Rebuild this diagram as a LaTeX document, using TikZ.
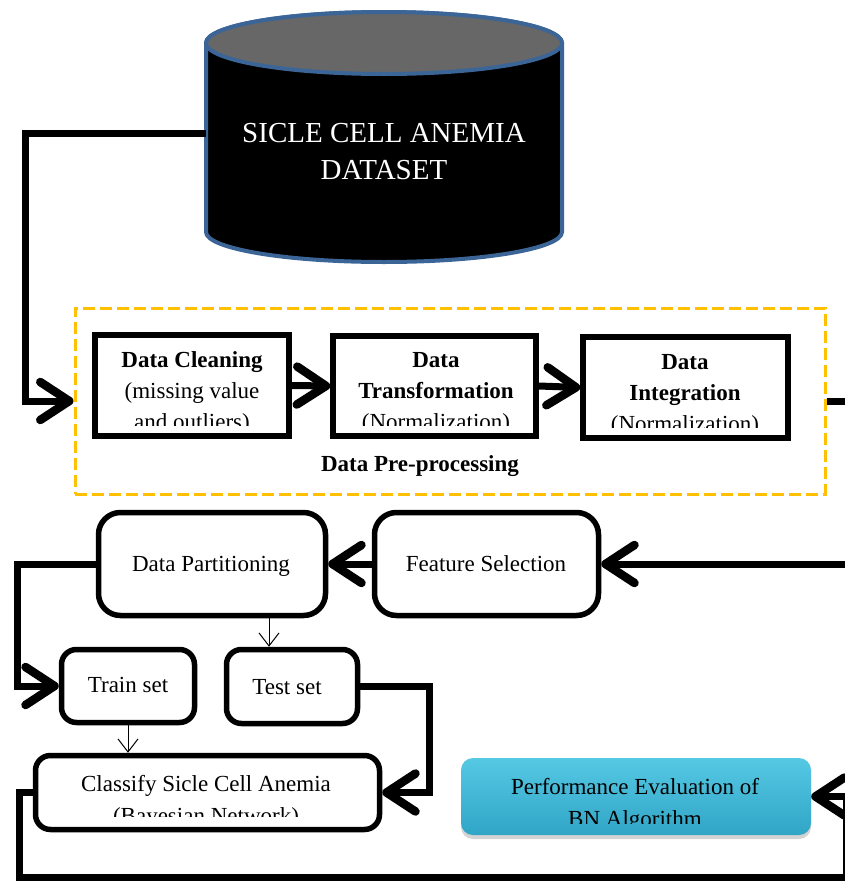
\documentclass[tikz,border=0pt]{standalone}
\usepackage{fontspec}
\setmainfont{Liberation Serif}
\usetikzlibrary{arrows.meta,shadows}

\definecolor{dashgold}{HTML}{FFC000}
\definecolor{cylblue}{HTML}{3C6597}
\definecolor{cyltop}{HTML}{676767}
\definecolor{perftop}{HTML}{55C8E4}
\definecolor{perfbot}{HTML}{31A5C6}

\tikzset{
  flow/.style={line width=7pt, line join=miter,
    -{Straight Barb[length=29pt,width=38pt,line width=8.5pt,round]}},
  thinflow/.style={line width=1pt, -{Straight Barb[length=13pt,width=20pt]}},
  sqbox/.style={draw, line width=5.5pt, inner sep=0pt},
  rbox/.style={draw, line width=5.5pt, inner sep=0pt, rounded corners=#1},
  groupbox/.style={draw=dashgold, line width=3pt, dash pattern=on 12pt off 5pt, inner sep=0pt},
  perfbox/.style={rounded corners=12pt, inner sep=0pt,
    top color=perftop, bottom color=perfbot,
    drop shadow={opacity=0.35, shadow xshift=0pt, shadow yshift=-4pt}},
  lbl/.style={font=\fontsize{23}{28}\selectfont, inner sep=0pt, anchor=base},
  blbl/.style={font=\fontsize{23}{28}\selectfont\bfseries, inner sep=0pt, anchor=base},
  dblbl/.style={font=\fontsize{29}{34}\selectfont, text=white, inner sep=0pt, anchor=base},
}

\begin{document}
\begin{tikzpicture}[x=1pt, y=-1pt]
\useasboundingbox (0,0) rectangle (845,881);
\clip (0,0) rectangle (845,881);

% ---------- dataset cylinder ----------
\node[inner sep=0pt, minimum width=356pt, minimum height=250pt] (db) at (384,137) {};
\filldraw[fill=black, draw=cylblue, line width=4pt]
  (206,43) -- (206,232)
  arc[start angle=180, end angle=360, x radius=178pt, y radius=30pt]
  -- (562,43)
  arc[start angle=0, end angle=180, x radius=178pt, y radius=31pt] -- cycle;
\filldraw[fill=cyltop, draw=cylblue, line width=4pt]
  (384,43) ellipse[x radius=178pt, y radius=31pt];
\node[dblbl] (db1) at (384,142) {SICLE CELL ANEMIA};
\node[dblbl] (db2) at (384,179) {DATASET};

% ---------- pre-processing group ----------
\node[groupbox, minimum width=750pt, minimum height=186pt] (pre) at (450,401) {};
\node[sqbox, minimum width=194pt, minimum height=101pt] (clean) at (192,385.5) {};
\node[sqbox, minimum width=203pt, minimum height=100pt] (trans) at (434.5,386) {};
\node[sqbox, minimum width=205pt, minimum height=101pt] (integ) at (685.5,387.5) {};

\begin{scope}
  \clip (95,335) rectangle (289,425);
  \node[blbl] (clean1) at (192,367) {Data Cleaning};
  \node[lbl]  (clean2) at (192,398) {(missing value};
  \node[lbl]  (clean3) at (192,429) {and outliers)};
\end{scope}
\begin{scope}
  \clip (333,336) rectangle (536,425);
  \node[blbl] (trans1) at (436,367) {Data};
  \node[blbl] (trans2) at (436,398) {Transformation};
  \node[lbl]  (trans3) at (436,429) {(Normalization)};
\end{scope}
\begin{scope}
  \clip (583,337) rectangle (788,427);
  \node[blbl] (integ1) at (685,369) {Data};
  \node[blbl] (integ2) at (685,400) {Integration};
  \node[lbl]  (integ3) at (685,431) {(Normalization)};
\end{scope}
\node[blbl] (pretitle) at (420,471) {Data Pre-processing};

% ---------- selection and partitioning ----------
\node[rbox=22pt, minimum width=227pt, minimum height=103pt] (dp) at (212,564) {};
\node[lbl] (dptxt) at (211,571) {Data Partitioning};
\node[rbox=22pt, minimum width=224pt, minimum height=103pt] (fs) at (486.5,564) {};
\node[lbl] (fstxt) at (486,571) {Feature Selection};

\node[rbox=15pt, minimum width=133pt, minimum height=73pt] (train) at (128,686) {};
\node[lbl] (traintxt) at (128,692) {Train set};
\node[rbox=15pt, minimum width=131pt, minimum height=74pt] (test) at (292,686.5) {};
\node[lbl] (testtxt) at (287,694) {Test set};

% ---------- classification and evaluation ----------
\node[rbox=15pt, minimum width=344pt, minimum height=74pt] (cls) at (207.5,792.5) {};
\begin{scope}
  \clip (36,756) rectangle (380,816);
  \node[lbl] (cls1) at (206,791) {Classify Sicle Cell Anemia};
  \node[lbl] (cls2) at (206,823) {(Bayesian Network)};
\end{scope}

\node[perfbox, minimum width=350pt, minimum height=77pt] (perf) at (636,796.5) {};
\begin{scope}
  \clip (461,758) rectangle (811,823);
  \node[lbl] (perf1) at (635,794) {Performance Evaluation of};
  \node[lbl] (perf2) at (635,826) {BN Algorithm};
\end{scope}

% ---------- connectors ----------
\draw[flow] ([yshift=4pt]db.west) -- ++(-180,0) |- (pre.west);
\draw[flow] (clean.east) -- (trans.east -| trans.west);
\draw[flow] (trans.east) -- (integ.west);
\draw[flow] (pre.east) -- ++(27,0) |- (fs.east);
\draw[flow] (fs.west) -- (dp.east);
\draw[flow] (dp.west) -- ++(-78,0) |- (train.west);
\draw[thinflow] ([xshift=-23pt]test.north |- dp.south) -- ([xshift=-23pt]test.north);
\draw[thinflow] (train.south) -- (train.south |- cls.north);
\draw[flow] (test.east) -- ++(69,0) |- (cls.east);
\draw[flow] (cls.west) -- ++(-13.5,0) -- ++(0,84.5) -| ([xshift=35pt]perf.east) -- (perf.east);
\end{tikzpicture}
\end{document}
